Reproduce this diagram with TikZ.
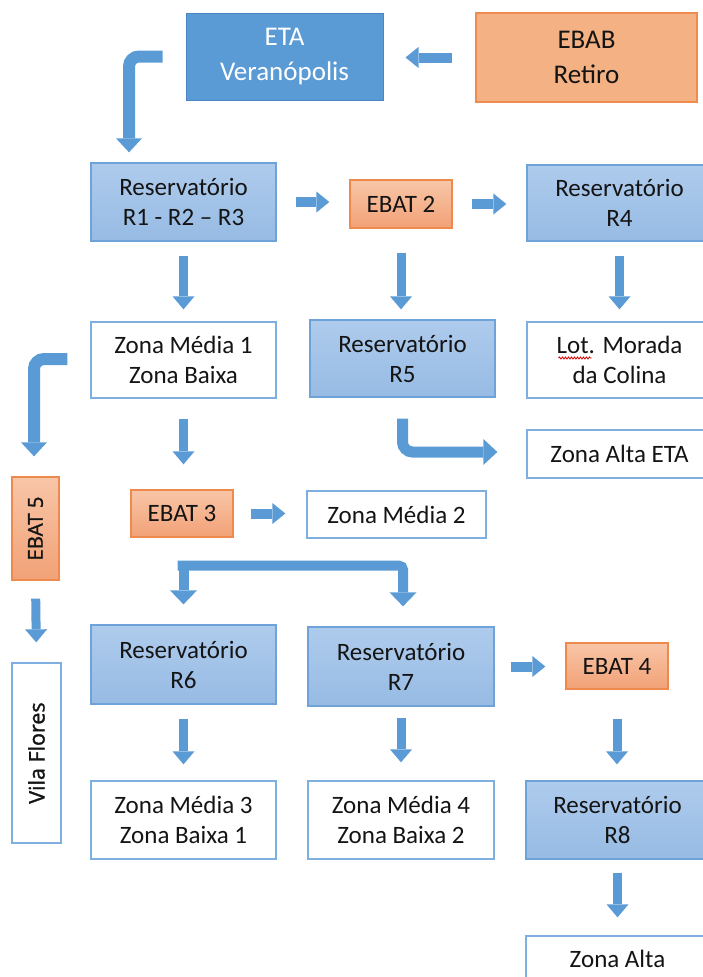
\documentclass[tikz,border=0pt]{standalone}
\usepackage{fontspec}
\setmainfont{Carlito}
\newfontfamily\rotfont[FakeBold=1.3]{Open Sans}
\usepackage{graphicx}
\usetikzlibrary{arrows.meta,calc,decorations.pathmorphing}

\definecolor{etablue}{HTML}{5B9BD5}
\definecolor{etaedge}{HTML}{4A86C5}
\definecolor{ebabfill}{HTML}{F4B183}
\definecolor{ebabedge}{HTML}{EF8B4F}
\definecolor{restop}{HTML}{AECBEC}
\definecolor{resbot}{HTML}{97BBE4}
\definecolor{resedge}{HTML}{6EA2D9}
\definecolor{ebattop}{HTML}{F8C6A8}
\definecolor{ebatbot}{HTML}{F2A176}
\definecolor{ebatedge}{HTML}{EE8A4E}
\definecolor{zoneedge}{HTML}{7FAEE0}
\definecolor{arrowblue}{HTML}{5B9BD5}
\definecolor{txt}{HTML}{141414}

\tikzset{
  every node/.style={font=\fontsize{25}{30}\selectfont, text=txt, align=center, inner sep=0pt},
  darkbox/.style={fill=etablue, draw=etaedge, line width=1pt, text=white, font=\fontsize{27}{35}\selectfont},
  orangebig/.style={fill=ebabfill, draw=ebabedge, line width=1.3pt, font=\fontsize{27}{35}\selectfont},
  resbox/.style={top color=restop, bottom color=resbot, draw=resedge, line width=1.3pt},
  ebatbox/.style={top color=ebattop, bottom color=ebatbot, draw=ebatedge, line width=1.3pt},
  zonebox/.style={fill=white, draw=zoneedge, line width=1.3pt},
  harrow/.style={draw=arrowblue, line width=10pt, -{Triangle[length=13pt 0 0, width=21pt 0 0, line width=0pt 0 0]}},
  varrow/.style={draw=arrowblue, line width=9pt, -{Triangle[length=13pt 0 0, width=22pt 0 0, line width=0pt 0 0]}},
  barrow/.style={draw=arrowblue, line width=12pt, rounded corners=10pt, -{Triangle[length=14pt 0 0, width=26pt 0 0, line width=0pt 0 0]}},
  splitarrow/.style={draw=arrowblue, line width=10pt, rounded corners=4pt, -{Triangle[length=14pt 0 0, width=27pt 0 0, line width=0pt 0 0]}},
}

\begin{document}
\begin{tikzpicture}[x=1pt, y=-1pt]
\useasboundingbox (0,0) rectangle (703,977);
\clip (0,0) rectangle (703,977);

% top row
\node[darkbox, minimum width=197pt, minimum height=87pt] (eta) at (284.5,56.5) {ETA\\Veranópolis};
\node[orangebig, minimum width=221pt, minimum height=89pt] (ebab) at (586.5,57.5) {EBAB\\Retiro};

% second row
\node[resbox, minimum width=185pt, minimum height=78pt] (r123) at (183.5,202) {Reservatório\\R1 - R2 -- R3};
\node[ebatbox, minimum width=102pt, minimum height=48pt] (ebat2) at (401,204) {EBAT 2};
\node[resbox, minimum width=185pt, minimum height=76pt] (r4) at (619.5,203) {Reservatório\\R4};

% third row
\node[zonebox, minimum width=185pt, minimum height=76pt] (zm1) at (183.5,360) {Zona Média 1\\Zona Baixa};
\node[resbox, minimum width=185pt, minimum height=77pt] (r5) at (402.5,358.5) {Reservatório\\R5};
\node[zonebox, minimum width=185pt, minimum height=76pt] (lot) at (619.5,360) {Lot. Morada\\da Colina};
\node[zonebox, minimum width=185pt, minimum height=48pt] (zaeta) at (619.5,454) {Zona Alta ETA};

% fourth row
\node[ebatbox, minimum width=47pt, minimum height=103pt] (ebat5) at (35.5,528.5) {\rotatebox{90}{\rotfont\fontsize{20.5}{24}\selectfont EBAT 5}};
\node[ebatbox, minimum width=102pt, minimum height=47pt] (ebat3) at (182,513.5) {EBAT 3};
\node[zonebox, minimum width=179pt, minimum height=47pt] (zm2) at (396.5,514.5) {Zona Média 2};

% fifth row
\node[resbox, minimum width=185pt, minimum height=79pt] (r6) at (183.5,664.5) {Reservatório\\R6};
\node[resbox, minimum width=186pt, minimum height=79pt] (r7) at (401,666.5) {Reservatório\\R7};
\node[ebatbox, minimum width=102pt, minimum height=46pt] (ebat4) at (617,666) {EBAT 4};
\node[zonebox, minimum width=49pt, minimum height=180pt] (vila) at (36.5,753) {\rotatebox{90}{\rotfont\fontsize{21.5}{25}\selectfont Vila Flores}};

% sixth row
\node[zonebox, minimum width=185pt, minimum height=78pt] (zm3) at (183.5,820) {Zona Média 3\\Zona Baixa 1};
\node[zonebox, minimum width=186pt, minimum height=78pt] (zm4) at (401,820) {Zona Média 4\\Zona Baixa 2};
\node[resbox, minimum width=183pt, minimum height=78pt] (r8) at (617.5,820) {Reservatório\\R8};
\node[zonebox, minimum width=183pt, minimum height=46pt] (zalta) at (617.5,959) {Zona Alta};

% spell-check mark under "Lot."
\draw[red!85!black, line width=0.8pt, decorate, decoration={snake, amplitude=1pt, segment length=3pt}]
  ($(lot.center)+(-61,-2)$) -- ($(lot.center)+(-28,-2)$);

% connectors
\draw[harrow, shorten <=23pt, shorten >=22pt] (ebab.west) -- (eta.east |- ebab.west);
\draw[barrow] ($(eta.west)+(-23,0)$) -| ($(r123.north)+(-54.5,-10)$);
\draw[harrow, shorten <=19pt, shorten >=20pt] (r123.east) -- (ebat2.west |- r123.east);
\draw[harrow, shorten <=19pt, shorten >=20pt] (ebat2.east) -- (r4.west |- ebat2.east);
\draw[varrow, shorten <=14pt, shorten >=12pt] (r123.south) -- (zm1.north);
\draw[varrow, shorten <=24pt, shorten >=10pt] (ebat2.south) -- (r5.north -| ebat2.south);
\draw[varrow, shorten <=14pt, shorten >=12pt] (r4.south) -- (lot.north);

\draw[barrow] ($(zm1.west)+(-23,-1)$) -| ($(ebat5.north)+(-1.5,-20)$);
\draw[varrow, shorten <=20pt, shorten >=25pt] (zm1.south) -- (ebat3.north -| zm1.south);
\draw[barrow, line width=11pt] ($(r5.south)+(0,21)$) |- ($(zaeta.west)+(-29,-2)$);
\draw[harrow, shorten <=17pt, shorten >=21pt] (ebat3.east) -- (zm2.west |- ebat3.east);

\coordinate (split) at ($(ebat3.south)+(1.5,28)$);
\draw[splitarrow] ($(split)+(0,-5)$) -- ($(r6.north)+(0,-20)$);
\draw[splitarrow] ($(split)+(-6,0)$) -| ($(r7.north)+(2,-20)$);

\draw[varrow, shorten <=18pt, shorten >=20pt] (ebat5.south) -- (vila.north);
\draw[harrow, shorten <=16pt, shorten >=20pt] (r7.east) -- (ebat4.west |- r7.east);
\draw[varrow, shorten <=14pt, shorten >=16pt] (r6.south) -- (zm3.north);
\draw[varrow, shorten <=11pt, shorten >=18pt] (r7.south) -- (zm4.north);
\draw[varrow, shorten <=29pt, shorten >=16pt] (ebat4.south) -- (r8.north -| ebat4.south);
\draw[varrow, shorten <=13pt, shorten >=18pt] (r8.south) -- (zalta.north);
\end{tikzpicture}
\end{document}
